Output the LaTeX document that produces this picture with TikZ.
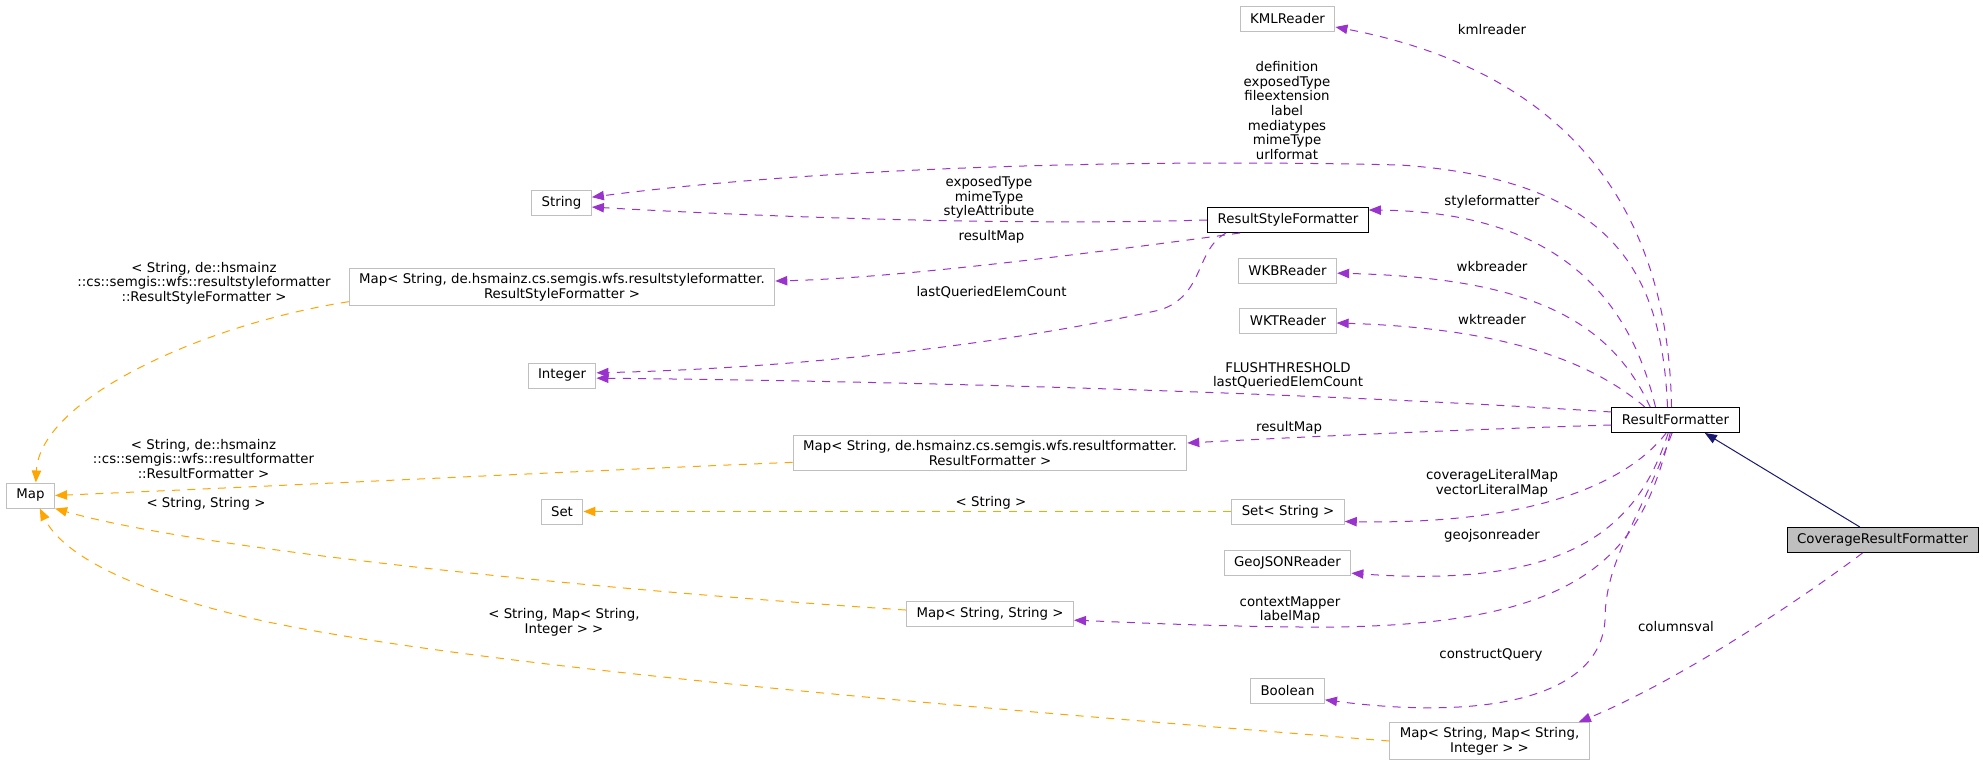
\documentclass[tikz,border=0pt]{standalone}
\usepackage{fontspec}
\setmainfont{DejaVu Sans}
\usetikzlibrary{arrows.meta}
\definecolor{usecolor}{HTML}{9A32CD}
\definecolor{tmplcolor}{HTML}{FFA500}
\definecolor{inhcolor}{HTML}{191970}
\definecolor{extcolor}{HTML}{BFBFBF}
\gdef\dfont{\fontsize{10pt}{11pt}\selectfont}

\begin{document}
\begin{tikzpicture}[x=0.75pt, y=-0.75pt, line width=0.75pt,
  cls/.style={draw=black, fill=white, font=\dfont, align=center,
    inner xsep=7.5pt, inner ysep=3.5pt, minimum height=18.75pt},
  ext/.style={cls, draw=extcolor},
  cur/.style={cls, fill=extcolor},
  lbl/.style={font=\dfont, align=center, inner sep=0pt},
  use/.style={draw=usecolor, dash pattern=on 6pt off 5.5pt,
    -{Triangle[length=9pt,width=7pt]}},
  tmpl/.style={draw=tmplcolor, dash pattern=on 6pt off 5.5pt,
    -{Triangle[length=9pt,width=7pt]}},
  inh/.style={draw=inhcolor, -{Triangle[length=9pt,width=7pt]}}]

\useasboundingbox (0,0) rectangle (1983,767);

% classes
\node[ext] (kml) at (1287.5,19) {KMLReader};
\node[ext] (string) at (561.5,202.5) {String};
\node[cls] (rsf) at (1288,220) {ResultStyleFormatter};
\node[ext] (maprsf) at (562,287) {Map< String, de.hsmainz.cs.semgis.wfs.resultstyleformatter.\\ResultStyleFormatter >};
\node[ext] (wkb) at (1287.5,270.5) {WKBReader};
\node[ext] (wkt) at (1288,321) {WKTReader};
\node[ext] (integer) at (562,375.5) {Integer};
\node[cls] (rf) at (1675.5,420) {ResultFormatter};
\node[ext] (maprf) at (990,453) {Map< String, de.hsmainz.cs.semgis.wfs.resultformatter.\\ResultFormatter >};
\node[ext] (map) at (30.5,495.5) {Map};
\node[ext] (set) at (562,511.5) {Set};
\node[ext] (setstr) at (1288,511.5) {Set< String >};
\node[ext] (geojson) at (1287.5,562.5) {GeoJSONReader};
\node[cur] (crf) at (1882.5,540) {CoverageResultFormatter};
\node[ext] (mapss) at (990,613.5) {Map< String, String >};
\node[ext] (boolean) at (1287.5,690.5) {Boolean};
\node[ext] (mapsm) at (1489.5,741) {Map< String, Map< String,\\Integer > >};

% members of ResultFormatter
\draw[use] ([xshift=-3pt]rf.north) .. controls (1668,200) and (1560,70) .. ([yshift=-6pt]kml.east);
\draw[use] ([xshift=-6pt]rf.north) .. controls (1662,280) and (1620,180) .. (1400,165)
  .. controls (1100,158) and (800,170) .. ([yshift=4pt]string.east);
\draw[use] ([xshift=-15pt]rf.north) .. controls (1630,300) and (1560,212) .. ([yshift=7.5pt]rsf.east);
\draw[use] ([xshift=-19pt]rf.north) .. controls (1610,320) and (1530,278) .. ([yshift=-2pt]wkb.east);
\draw[use] ([xshift=-23pt]rf.north) .. controls (1590,360) and (1500,328) .. ([yshift=-1.5pt]wkt.east);
\draw[use] ([yshift=6pt]rf.west) .. controls (1400,398) and (1000,382) .. ([yshift=-2pt]integer.east);
\draw[use] ([yshift=-3.75pt]rf.west) .. controls (1450,430) and (1300,437) .. ([yshift=7.5pt]maprf.east);
\draw[use] ([xshift=-7pt]rf.south) .. controls (1630,480) and (1540,525) .. ([yshift=-7.5pt]setstr.east);
\draw[use] ([xshift=-5.5pt]rf.south) .. controls (1640,520) and (1580,590) .. ([yshift=-8pt]geojson.east);
\draw[use] ([xshift=-4pt]rf.south) .. controls (1640,560) and (1580,630) .. (1300,627)
  .. controls (1200,626) and (1120,622) .. ([yshift=-5pt]mapss.east);
\draw[use] ([xshift=-2.6pt]rf.south) .. controls (1640,520) and (1605,560) .. (1605,620)
  .. controls (1600,700) and (1480,720) .. ([yshift=-7pt]boolean.east);

% members of ResultStyleFormatter
\draw[use] (rsf.west) .. controls (1000,226) and (750,216) .. ([yshift=-3.4pt]string.east);
\draw[use] ([xshift=-36pt]rsf.south) .. controls (1100,252) and (900,278) .. ([yshift=4.5pt]maprsf.east);
\draw[use] ([xshift=-46.5pt]rsf.south) .. controls (1195,250) and (1205,295) .. (1160,310)
  .. controls (1000,345) and (800,368) .. ([yshift=2pt]integer.east);

% CoverageResultFormatter
\draw[use] ([xshift=-15pt]crf.south) .. controls (1800,600) and (1680,680) .. ([xshift=67pt]mapsm.north);
\draw[inh] ([xshift=-17pt]crf.north) -- ([xshift=22pt]rf.south);

% template instances
\draw[tmpl] ([yshift=-11pt]maprsf.west) .. controls (200,325) and (40,400) .. ([xshift=4pt]map.north);
\draw[tmpl] ([yshift=-7pt]maprf.west) .. controls (600,470) and (300,485) .. (map.east);
\draw[tmpl] (setstr) -- (set);
\draw[tmpl] ([yshift=2.6pt]mapss.west) .. controls (600,590) and (200,550) .. (map.south east);
\draw[tmpl] (mapsm.west) .. controls (1000,710) and (500,670) .. (268,622)
  .. controls (120,590) and (60,550) .. ([xshift=7pt]map.south);

% labels
\node[lbl] (lkml) at (1492,30) {kmlreader};
\node[lbl] (ldef) at (1287,110.5) {definition\\exposedType\\fileextension\\label\\mediatypes\\mimeType\\urlformat};
\node[lbl] (lexp) at (989,197.5) {exposedType\\mimeType\\styleAttribute};
\node[lbl] (lres) at (991.5,237) {resultMap};
\node[lbl] (llast) at (991.5,292) {lastQueriedElemCount};
\node[lbl] (lflush) at (1288,375.5) {FLUSHTHRESHOLD\\lastQueriedElemCount};
\node[lbl] (lresrf) at (1289,428) {resultMap};
\node[lbl] (lstyle) at (1492,202) {styleformatter};
\node[lbl] (lwkb) at (1492,267) {wkbreader};
\node[lbl] (lwkt) at (1492,320) {wktreader};
\node[lbl] (lcov) at (1492,483) {coverageLiteralMap\\vectorLiteralMap};
\node[lbl] (lgeo) at (1492,536) {geojsonreader};
\node[lbl] (lctx) at (1290,610) {contextMapper\\labelMap};
\node[lbl] (lcq) at (1491,655) {constructQuery};
\node[lbl] (lcol) at (1676,627) {columnsval};
\node[lbl] (ltrsf) at (204,283) {< String, de::hsmainz\\::cs::semgis::wfs::resultstyleformatter\\::ResultStyleFormatter >};
\node[lbl] (ltrf) at (203.5,459) {< String, de::hsmainz\\::cs::semgis::wfs::resultformatter\\::ResultFormatter >};
\node[lbl] (ltss) at (206,504) {< String, String >};
\node[lbl] (ltstr) at (991,503) {< String >};
\node[lbl] (ltsm) at (564,622) {< String, Map< String,\\Integer > >};

\end{tikzpicture}
\end{document}
